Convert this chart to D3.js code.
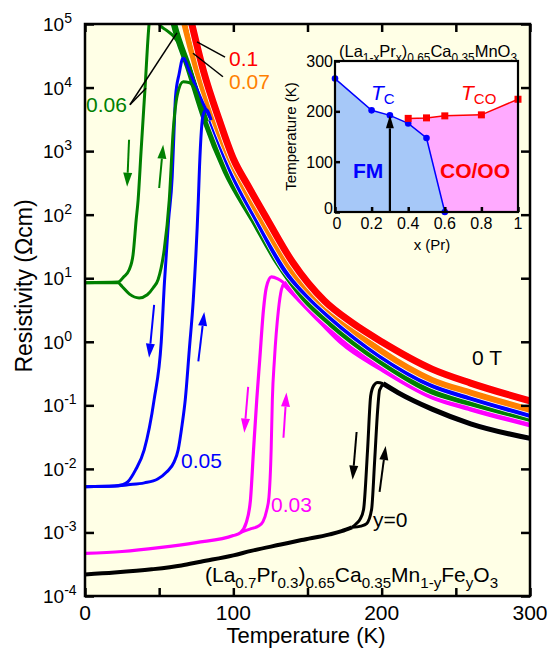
<!DOCTYPE html>
<html>
<head>
<meta charset="utf-8">
<script src="https://cdn.jsdelivr.net/npm/d3@7"></script>
<style>
  body { margin: 0; background: #fff; }
  text { font-family: "Liberation Sans", Arial, sans-serif; }
</style>
</head>
<body>
<div class="chart"></div>
<script>
// ---- data: [temperature (K), log10 resistivity (Ohm cm)] ----
var red_para = [[70, 5.2], [72, 5.0], [80, 4.25], [90.5, 3.49], [100, 2.88], [110, 2.45], [123, 1.92], [140, 1.25], [161.5, 0.64], [180, 0.30], [200, 0.0], [234, -0.43], [260, -0.65], [300, -0.93]];
var orange_para = [[65, 5.2], [67, 5.0], [75, 4.3], [87, 3.49], [100, 2.76], [110, 2.30], [119, 1.92], [140, 1.10], [157, 0.66], [166, 0.47], [200, -0.15], [234, -0.60], [260, -0.80], [300, -1.07]];

var green_para = [[58, 5.2], [60, 5.0], [70, 4.3], [81, 3.49], [95, 2.68], [113.5, 1.92], [130, 1.25], [148, 0.68], [166, 0.28], [200, -0.32], [234, -0.78], [260, -0.96], [300, -1.21]];
var green_cool = [[0, 0.93], [22.3, 0.94], [26, 1.02], [29.7, 1.13], [32.4, 1.37], [34.5, 1.92], [35.8, 2.23], [37.8, 3.0], [40.5, 4.0], [43.2, 5.0], [44.8, 5.25], [47, 5.2], [50, 5.0], [55, 4.9], [60, 4.8], [63.5, 4.68], [67, 4.48]];
var green_warm = [[0, 0.93], [22.3, 0.93], [25, 0.87], [30, 0.75], [36.5, 0.69], [42, 0.74], [46, 0.85], [49.3, 0.98], [53.4, 1.45], [56.8, 2.23], [59.5, 3.33], [62.2, 3.88], [66.2, 4.09], [70, 4.08], [74, 3.98], [77, 3.78]];

var blue_para = [[85, 3.49], [100, 2.62], [116, 1.92], [135, 1.13], [153, 0.66], [166, 0.38], [200, -0.23], [234, -0.68], [260, -0.88], [300, -1.15]];
var blue_cool = [[0, -2.28], [20, -2.27], [25, -2.25], [29, -2.20], [34, -2.02], [39.9, -1.70], [46.6, -0.91], [51.4, 0.0], [53.6, 0.95], [56.3, 1.9], [58.8, 2.6], [60, 3.3], [61, 3.85], [63.5, 4.22], [66.2, 4.47], [70, 4.28], [75, 4.0], [80, 3.73], [85, 3.49]];
var blue_warm = [[0, -2.28], [20, -2.27], [29, -2.25], [40, -2.22], [49, -2.16], [55, -2.05], [60.1, -1.89], [62.8, -1.70], [65.5, -1.30], [67.6, -0.91], [70.3, -0.13], [73, 0.66], [76.4, 2.23], [77.2, 2.75], [79.7, 3.58], [81.8, 3.65], [85, 3.49]];

var magenta_para = [[134, 0.93], [145, 0.66], [160, 0.30], [173, 0.0], [200, -0.42], [234, -0.86], [260, -1.05], [300, -1.30]];
var magenta_cool = [[0, -3.33], [25, -3.30], [50, -3.24], [75, -3.16], [100, -3.05], [105, -3.0], [108.5, -2.86], [111.5, -2.5], [113.5, -1.75], [115.8, -0.91], [117.8, -0.28], [120.3, 0.50], [122.3, 0.86], [125.7, 1.02], [130, 0.99], [134, 0.93]];
var magenta_warm = [[105, -3.0], [112, -2.94], [117, -2.9], [120, -2.83], [122.5, -2.65], [124, -2.45], [125.5, -1.7], [126.3, -0.91], [127.7, -0.28], [130.4, 0.50], [132.4, 0.82], [134.5, 0.93]];

var black_para = [[201, -0.66], [211, -0.80], [234, -1.06], [260, -1.29], [300, -1.52]];
var black_base = [[0, -3.66], [20, -3.63], [45, -3.58], [65, -3.52], [78, -3.46], [100, -3.36], [112, -3.29], [132, -3.19], [146, -3.12], [165, -3.03], [173, -2.98], [180, -2.92]];
var black_cool = [[180, -2.92], [183, -2.86], [185.5, -2.79], [187.8, -2.64], [190.5, -1.70], [192.6, -0.85], [194.6, -0.69], [197.3, -0.64], [201, -0.66]];
var black_warm = [[180, -2.92], [186, -2.90], [189.9, -2.86], [193.2, -2.64], [195.3, -1.86], [197.3, -1.07], [198.6, -0.76], [201.4, -0.66]];

// hysteresis arrows: [T start, log start, T end, log end]
var arrows = [
    {c: "#008000", p: [29.7, 3.18, 28.4, 2.44]},
    {c: "#008000", p: [50, 2.42, 52.7, 3.10]},
    {c: "#0000ff", p: [46.6, 0.58, 43.2, -0.25]},
    {c: "#0000ff", p: [76.4, -0.31, 80.4, 0.47]},
    {c: "#ff00ff", p: [110, -0.71, 107.4, -1.43]},
    {c: "#ff00ff", p: [133.8, -1.51, 135.8, -0.80]},
    {c: "#000", p: [183.1, -1.42, 180.4, -2.17]},
    {c: "#000", p: [198.6, -2.36, 202.7, -1.64]}
];

// leader lines from labels to curves
var leaders = [[94.4, 4.48, 75.5, 4.72], [93, 4.17, 72.8, 4.54], [30.3, 3.73, 41.1, 3.99], [30.3, 3.73, 62, 4.86]];

var yDecades = [-4, -3, -2, -1, 0, 1, 2, 3, 4, 5];
var xTicks = [0, 50, 100, 150, 200, 250, 300];
var xLabels = [0, 100, 200, 300];

// inset phase diagram
var tc_x = [0, 0.2, 0.3, 0.4, 0.5, 0.6];
var tc_t = [265, 202, 192, 176, 147, 0];
var tco_x = [0.4, 0.5, 0.6, 0.8, 1.0];
var tco_t = [186, 187, 191, 193, 224];
var insetXTicks = [0, 0.2, 0.4, 0.6, 0.8, 1];
var insetYTicks = [0, 100, 200, 300];

// ---- layout ----
var svgWidth = 555;
var svgHeight = 650;
var plot = {left: 85, right: 530, top: 24, bottom: 596};

var svg = d3.select(".chart").append("svg")
    .attr("width", svgWidth)
    .attr("height", svgHeight);

var x = d3.scaleLinear().domain([0, 300]).range([plot.left, plot.right]);
var y = d3.scaleLog().domain([1e-4, 1e5]).range([plot.bottom, plot.top]);

function px(d) { return x(d[0]); }
function py(d) { return y(Math.pow(10, d[1])); }

var line = d3.line().x(px).y(py).curve(d3.curveMonotoneX);

svg.append("defs").append("clipPath").attr("id", "plotclip")
    .append("rect")
    .attr("x", plot.left).attr("y", plot.top)
    .attr("width", plot.right - plot.left).attr("height", plot.bottom - plot.top);

// yellow plot background
svg.append("rect")
    .attr("x", plot.left).attr("y", plot.top)
    .attr("width", plot.right - plot.left).attr("height", plot.bottom - plot.top)
    .attr("fill", "#ffffe6");

var curves = svg.append("g").attr("clip-path", "url(#plotclip)");

// thick high temperature bands, with a thin white edge between neighbours
var bands = [
    [black_para, "#000", 5], [magenta_para, "#ff00ff", 6], [green_para, "#008000", 6.5],
    [blue_para, "#0000ff", 6], [orange_para, "#ff8000", 6], [red_para, "#ff0000", 7]
];
bands.forEach(function (b) {
    curves.append("path").attr("d", line(b[0]))
        .attr("fill", "none").attr("stroke", "#fff").attr("stroke-width", b[2] + 1.5);
    curves.append("path").attr("d", line(b[0]))
        .attr("fill", "none").attr("stroke", b[1]).attr("stroke-width", b[2]);
});

// low temperature hysteresis branches
var branches = [
    [black_base, "#000", 4], [black_cool, "#000", 3], [black_warm, "#000", 3],
    [magenta_cool, "#ff00ff", 3.2], [magenta_warm, "#ff00ff", 3],
    [blue_cool, "#0000ff", 3], [blue_warm, "#0000ff", 3],
    [green_cool, "#008000", 3], [green_warm, "#008000", 3]
];
branches.forEach(function (b) {
    curves.append("path").attr("d", line(b[0]))
        .attr("fill", "none").attr("stroke", b[1])
        .attr("stroke-width", b[2]).attr("stroke-linejoin", "round");
});

// arrows
function drawArrow(g, x1, y1, x2, y2, color, w, headL, headW) {
    var dx = x2 - x1, dy = y2 - y1, len = Math.sqrt(dx * dx + dy * dy);
    var ux = dx / len, uy = dy / len;
    var bx = x2 - ux * headL, by = y2 - uy * headL;
    g.append("line").attr("x1", x1).attr("y1", y1).attr("x2", bx).attr("y2", by)
        .attr("stroke", color).attr("stroke-width", w);
    g.append("polygon")
        .attr("points", [[x2, y2], [bx - uy * headW / 2, by + ux * headW / 2], [bx + uy * headW / 2, by - ux * headW / 2]].join(" "))
        .attr("fill", color);
}
arrows.forEach(function (a) {
    drawArrow(svg, x(a.p[0]), py([0, a.p[1]]), x(a.p[2]), py([0, a.p[3]]), a.c, 2, 14, 9);
});

leaders.forEach(function (l) {
    svg.append("line")
        .attr("x1", x(l[0])).attr("y1", py([0, l[1]]))
        .attr("x2", x(l[2])).attr("y2", py([0, l[3]]))
        .attr("stroke", "#000").attr("stroke-width", 1.5);
});

// ---- axes: inward ticks on all four sides ----
var decadeVals = yDecades.map(function (e) { return Math.pow(10, e); });
function styleAxis(g) {
    g.select(".domain").remove();
    g.selectAll("line").attr("stroke", "#000").attr("stroke-width", 2.5);
}
svg.append("g").attr("transform", "translate(0," + plot.bottom + ")")
    .call(d3.axisBottom(x).tickValues(xTicks).tickSize(-8).tickFormat("")).call(styleAxis);
svg.append("g").attr("transform", "translate(0," + plot.top + ")")
    .call(d3.axisTop(x).tickValues(xTicks).tickSize(-8).tickFormat("")).call(styleAxis);
svg.append("g").attr("transform", "translate(" + plot.left + ",0)")
    .call(d3.axisLeft(y).tickValues(decadeVals).tickSize(-9).tickFormat("")).call(styleAxis);
svg.append("g").attr("transform", "translate(" + plot.right + ",0)")
    .call(d3.axisRight(y).tickValues(decadeVals).tickSize(-9).tickFormat("")).call(styleAxis);

svg.append("rect")
    .attr("x", plot.left).attr("y", plot.top)
    .attr("width", plot.right - plot.left).attr("height", plot.bottom - plot.top)
    .attr("fill", "none").attr("stroke", "#000").attr("stroke-width", 2.5);

// y tick labels 10^n
yDecades.forEach(function (e) {
    var t = svg.append("text")
        .attr("x", 43).attr("y", y(Math.pow(10, e)) + 7)
        .attr("font-size", 19).attr("fill", "#000");
    t.append("tspan").text("10");
    t.append("tspan").attr("font-size", 14).attr("dy", -8).text(e);
});

xLabels.forEach(function (v) {
    svg.append("text")
        .attr("x", x(v)).attr("y", 620)
        .attr("text-anchor", "middle").attr("font-size", 21)
        .text(v);
});

svg.append("text")
    .attr("x", 306).attr("y", 643)
    .attr("text-anchor", "middle").attr("font-size", 22)
    .text("Temperature (K)");

svg.append("text")
    .attr("transform", "translate(32,286) rotate(-90)")
    .attr("text-anchor", "middle").attr("font-size", 23)
    .text("Resistivity (\u03A9cm)");

// curve labels
var labels = [
    ["0.1", 229, 66, "#ff0000"], ["0.07", 229, 89, "#ff8000"], ["0.06", 86, 112, "#008000"],
    ["0.05", 181, 468, "#0000ff"], ["0.03", 271, 512, "#ff00ff"], ["y=0", 373, 527, "#000"],
    ["0 T", 472, 365, "#000"]
];
labels.forEach(function (l) {
    svg.append("text").attr("x", l[1]).attr("y", l[2])
        .attr("font-size", 21).attr("fill", l[3]).text(l[0]);
});

// formula with subscripts
function formula(g, xx, yy, size, parts) {
    var t = g.append("text").attr("x", xx).attr("y", yy).attr("font-size", size);
    var shift = 0;
    parts.forEach(function (p) {
        var sub = p[1] === "sub";
        var dy = sub ? (shift === 0 ? size * 0.3 : 0) : (shift !== 0 ? -shift : 0);
        var s = t.append("tspan").attr("dy", dy).text(p[0]);
        if (sub) { s.attr("font-size", size * 0.72); shift = size * 0.3; } else { shift = 0; }
    });
    return t;
}
formula(svg, 205, 582, 21, [["(La"], ["0.7", "sub"], ["Pr"], ["0.3", "sub"], [")"], ["0.65", "sub"],
    ["Ca"], ["0.35", "sub"], ["Mn"], ["1-y", "sub"], ["Fe"], ["y", "sub"], ["O"], ["3", "sub"]]);

// ---- inset ----
var xi = d3.scaleLinear().domain([0, 1]).range([335, 518]);
var yi = d3.scaleLinear().domain([0, 300]).range([212, 61]);
var inset = svg.append("g");

inset.append("rect")
    .attr("x", xi(0)).attr("y", yi(300))
    .attr("width", xi(1) - xi(0)).attr("height", yi(0) - yi(300))
    .attr("fill", "#fff");

var tc = tc_x.map(function (v, i) { return [v, tc_t[i]]; });
var tco = tco_x.map(function (v, i) { return [v, tco_t[i]]; });

inset.append("path")
    .attr("d", d3.area().x(function (d) { return xi(d[0]); }).y0(yi(0)).y1(function (d) { return yi(d[1]); })(tc))
    .attr("fill", "#a6c8f8");

var pink = tco.concat([[1, 0]]).concat(tc.filter(function (d) { return d[0] >= 0.4; }).reverse());
inset.append("path")
    .attr("d", d3.line().x(function (d) { return xi(d[0]); }).y(function (d) { return yi(d[1]); })(pink) + "Z")
    .attr("fill", "#ffaaff");

var li = d3.line().x(function (d) { return xi(d[0]); }).y(function (d) { return yi(d[1]); });
inset.append("path").attr("d", li(tc)).attr("fill", "none").attr("stroke", "#0000ff").attr("stroke-width", 1.5);
inset.append("path").attr("d", li(tco)).attr("fill", "none").attr("stroke", "#ff0000").attr("stroke-width", 1.5);

inset.selectAll(".tcdot").data(tc).enter().append("circle")
    .attr("cx", function (d) { return xi(d[0]); }).attr("cy", function (d) { return yi(d[1]); })
    .attr("r", 3.3).attr("fill", "#0000ff");
inset.selectAll(".tcosq").data(tco).enter().append("rect")
    .attr("x", function (d) { return xi(d[0]) - 3.5; }).attr("y", function (d) { return yi(d[1]) - 3.5; })
    .attr("width", 7).attr("height", 7).attr("fill", "#ff0000");

// arrow at x = 0.3 up to Tc
drawArrow(inset, xi(0.3), yi(0), xi(0.3), yi(192), "#000", 2.2, 13, 8);

inset.append("g").attr("transform", "translate(0," + yi(0) + ")")
    .call(d3.axisBottom(xi).tickValues(insetXTicks).tickSize(-5).tickFormat("")).call(styleAxis);
inset.append("g").attr("transform", "translate(" + xi(0) + ",0)")
    .call(d3.axisLeft(yi).tickValues(insetYTicks).tickSize(-5).tickFormat("")).call(styleAxis);
inset.append("rect")
    .attr("x", xi(0)).attr("y", yi(300))
    .attr("width", xi(1) - xi(0)).attr("height", yi(0) - yi(300))
    .attr("fill", "none").attr("stroke", "#000").attr("stroke-width", 2.2);

insetXTicks.forEach(function (v) {
    inset.append("text").attr("x", xi(v) + (v === 0 ? 2 : 0)).attr("y", 229)
        .attr("text-anchor", "middle").attr("font-size", 16).text(v);
});
insetYTicks.forEach(function (v) {
    inset.append("text").attr("x", 333).attr("y", yi(v) + 6 - (v === 0 ? 4 : 0))
        .attr("text-anchor", "end").attr("font-size", 16).text(v);
});

inset.append("text")
    .attr("transform", "translate(296," + ((yi(0) + yi(300)) / 2) + ") rotate(-90)")
    .attr("text-anchor", "middle").attr("font-size", 15)
    .text("Temperature (K)");
inset.append("text").attr("x", 432).attr("y", 250)
    .attr("text-anchor", "middle").attr("font-size", 15).text("x (Pr)");

formula(inset, 339, 57, 16.5, [["(La"], ["1-x", "sub"], ["Pr"], ["x", "sub"], [")"], ["0.65", "sub"],
    ["Ca"], ["0.35", "sub"], ["MnO"], ["3", "sub"]]);

// T_C and T_CO
var tcl = inset.append("text").attr("x", 371).attr("y", 100).attr("font-size", 21).attr("fill", "#0000ff");
tcl.append("tspan").attr("font-style", "italic").text("T");
tcl.append("tspan").attr("font-size", 15).attr("dy", 4).text("C");
var tcol = inset.append("text").attr("x", 461).attr("y", 100).attr("font-size", 21).attr("fill", "#ff0000");
tcol.append("tspan").attr("font-style", "italic").text("T");
tcol.append("tspan").attr("font-size", 15).attr("dy", 4).text("CO");

inset.append("text").attr("x", 353).attr("y", 178).attr("font-size", 21)
    .attr("font-weight", "bold").attr("fill", "#0000ff").text("FM");
inset.append("text").attr("x", 440).attr("y", 178).attr("font-size", 21)
    .attr("font-weight", "bold").attr("fill", "#ff0000").text("CO/OO");
</script>
</body>
</html>
